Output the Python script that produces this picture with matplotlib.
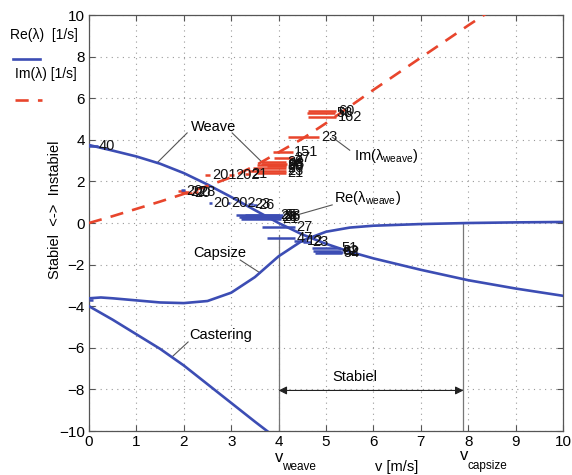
import matplotlib.pyplot as plt
from matplotlib.lines import Line2D

plt.rcParams['font.family'] = ['Liberation Sans', 'DejaVu Sans']
plt.rcParams['mathtext.fontset'] = 'custom'
plt.rcParams['mathtext.rm'] = 'Liberation Sans'
plt.rcParams['mathtext.it'] = 'Liberation Sans:italic'

BLUE = '#3c4db4'
RED = '#e8452c'

# eigenvalue curves
v_weave = [0, 0.5, 1, 1.5, 2, 2.5, 3, 3.5, 4, 4.5, 5, 5.5, 6, 7, 8, 9, 10]
re_weave = [3.75, 3.48, 3.2, 2.85, 2.4, 1.85, 1.25, 0.62, 0.0, -0.55, -1.0, -1.38, -1.7, -2.25, -2.75, -3.15, -3.5]

v_im = [0, 0.5, 1, 1.5, 2, 2.5, 3, 3.5, 4, 4.5, 5, 5.5, 6, 7, 8, 8.4]
im_weave = [0, 0.33, 0.68, 1.03, 1.4, 1.78, 2.2, 2.75, 3.4, 4.05, 4.8, 5.6, 6.4, 7.95, 9.5, 10.1]

v_capsize = [0, 0.25, 0.5, 1, 1.5, 2, 2.5, 3, 3.5, 4, 4.5, 5, 5.5, 6, 7, 8, 9, 10]
re_capsize = [-3.62, -3.58, -3.62, -3.72, -3.82, -3.85, -3.75, -3.35, -2.6, -1.6, -0.85, -0.42,
              -0.22, -0.13, -0.05, 0.0, 0.03, 0.05]

v_caster = [0, 0.5, 1, 1.5, 2, 2.5, 3, 3.5, 3.9]
re_caster = [-4.0, -4.65, -5.35, -6.05, -6.85, -7.75, -8.65, -9.55, -10.25]

V_WEAVE = 4.0
V_CAPSIZE = 7.9

# measured runs: speed, value, half spread in speed, run number
im_v = [1.95, 2.02, 2.1, 2.25, 2.5, 3.0, 3.35, 3.75, 3.8, 3.85, 3.9, 3.85, 3.95, 3.9,
        4.09, 4.1, 4.53, 4.92, 4.9, 4.92]
im_val = [1.55, 1.5, 1.45, 1.5, 2.3, 2.3, 2.35, 2.5, 2.65, 2.8, 2.95, 2.4, 2.75, 2.85,
          3.41, 3.12, 4.13, 5.1, 5.3, 5.4]
im_dv = [0.08, 0.08, 0.08, 0.05, 0.06, 0.05, 0.05, 0.4, 0.35, 0.3, 0.25, 0.3, 0.2, 0.27,
         0.21, 0.2, 0.33, 0.3, 0.3, 0.3]
im_run = ['20', '22', '20', '28', '201', '202', '21', '23', '26', '25', '28', '21', '86', '98',
          '151', '27', '23', '162', '58', '60']

re_v = [0.08, 0.04, 1.98, 2.56, 2.95, 3.4, 3.5, 3.55, 3.6, 3.62, 3.65, 3.7,
        4.0, 4.05, 4.45, 4.6, 5.0, 5.02, 5.05, 5.1]
re_val = [3.7, -3.7, 1.6, 0.96, 0.96, 0.9, 0.85, 0.38, 0.3, 0.2, 0.28, 0.4,
          -0.19, -0.7, -0.85, -0.9, -1.2, -1.35, -1.45, -1.4]
re_dv = [0.1, 0.05, 0.04, 0.03, 0.03, 0.05, 0.05, 0.45, 0.43, 0.42, 0.45, 0.4,
         0.35, 0.3, 0.12, 0.08, 0.3, 0.3, 0.28, 0.25]
re_run = ['40', '', '', '20', '202', '23', '26', '25', '28', '21', '86', '98',
          '27', '47', '12', '23', '51', '62', '54', '42']

fig = plt.figure(figsize=(5.72, 4.75), dpi=100)
ax = fig.add_axes([0.1556, 0.0926, 0.8287, 0.8758])

ax.plot(v_weave, re_weave, color=BLUE, lw=1.9, zorder=3)
ax.plot(v_capsize, re_capsize, color=BLUE, lw=1.9, zorder=3)
ax.plot(v_caster, re_caster, color=BLUE, lw=1.9, zorder=3)
ax.plot(v_im, im_weave, color=RED, lw=1.9, dashes=(5, 3.5), zorder=3)

ax.errorbar(im_v, im_val, xerr=im_dv, fmt='none', ecolor=RED, elinewidth=1.8, capsize=0, zorder=4)
ax.errorbar(re_v, re_val, xerr=re_dv, fmt='none', ecolor=BLUE, elinewidth=1.8, capsize=0, zorder=4)
for v, y, dv, s in zip(im_v + re_v, im_val + re_val, im_dv + re_dv, im_run + re_run):
    if s:
        ax.text(v + dv + 0.03, y, s, fontsize=10.5, va='center', ha='left', color='#111111', zorder=5)

# speed boundaries and stable range
ax.plot([V_WEAVE, V_WEAVE], [-10, -0.6], color='#777777', lw=0.9, zorder=2)
ax.plot([V_CAPSIZE, V_CAPSIZE], [-10, 0], color='#777777', lw=0.9, zorder=2)
ax.annotate('', xy=(V_WEAVE, -8.05), xytext=(V_CAPSIZE, -8.05),
            arrowprops=dict(arrowstyle='<|-|>', color='#222222', lw=0.8, mutation_scale=12,
                            shrinkA=0, shrinkB=0))
ax.text(5.61, -7.4, 'Stabiel', fontsize=10.5, ha='center', va='center')

# curve names with leader lines
lead = dict(color='#555555', lw=0.8)
ax.text(2.63, 4.6, 'Weave', fontsize=10.5, ha='center', va='center')
ax.plot([2.07, 1.43], [4.33, 2.88], **lead)
ax.plot([3.02, 3.67], [4.33, 2.88], **lead)
ax.text(5.6, 3.2, r'$\mathregular{Im(\lambda_{weave})}$', fontsize=10.5, ha='left', va='center')
ax.plot([5.13, 5.5], [4.13, 3.5], **lead)
ax.text(5.17, 1.2, r'$\mathregular{Re(\lambda_{weave})}$', fontsize=10.5, ha='left', va='center')
ax.plot([5.13, 4.24], [0.87, 0.29], **lead)
ax.text(2.75, -1.44, 'Capsize', fontsize=10.5, ha='center', va='center')
ax.plot([3.19, 3.61], [-1.78, -2.4], **lead)
ax.text(2.77, -5.38, 'Castering', fontsize=10.5, ha='center', va='center')
ax.plot([2.09, 1.75], [-5.72, -6.44], **lead)

ax.set_xlim(0, 10)
ax.set_ylim(-10, 10)
ax.set_xticks(range(0, 11))
ax.set_yticks(range(-10, 11, 2))
ax.set_yticklabels([str(t).replace('-', '\u2212') for t in range(-10, 11, 2)])
ax.tick_params(direction='in', top=True, right=True, labelsize=11, length=4, color='#555555', pad=3)
ax.grid(True, linestyle=(0, (1, 4)), color='#999999', lw=0.8)
for sp in ax.spines.values():
    sp.set_color('#555555')
    sp.set_linewidth(0.9)

# speed labels below the axis
ax.text(3.92, -11.25, 'v', fontsize=12, ha='left', va='center', clip_on=False)
ax.text(4.07, -11.75, 'weave', fontsize=8.5, ha='left', va='center', clip_on=False)
ax.text(7.83, -11.2, 'v', fontsize=12, ha='left', va='center', clip_on=False)
ax.text(7.98, -11.7, 'capsize', fontsize=8.5, ha='left', va='center', clip_on=False)
ax.text(6.48, -11.75, 'v [m/s]', fontsize=10.5, ha='center', va='center', clip_on=False)

ax.text(-0.072, 0.531, 'Stabiel  <->  Instabiel', transform=ax.transAxes, rotation=90,
        fontsize=10.5, ha='center', va='center')

# legend outside the axes, top left
fig.text(10 / 572, 1 - 35 / 475, 'Re(\u03bb)  [1/s]', fontsize=10, ha='left', va='center')
fig.add_artist(Line2D([13 / 572, 40 / 572], [1 - 59 / 475] * 2, color=BLUE, lw=1.9))
fig.text(15 / 572, 1 - 74 / 475, 'Im(\u03bb) [1/s]', fontsize=10, ha='left', va='center')
fig.add_artist(Line2D([15 / 572, 42 / 572], [1 - 100 / 475] * 2, color=RED, lw=1.9, dashes=(5, 3.5)))

fig.savefig('out.png', dpi=100)
